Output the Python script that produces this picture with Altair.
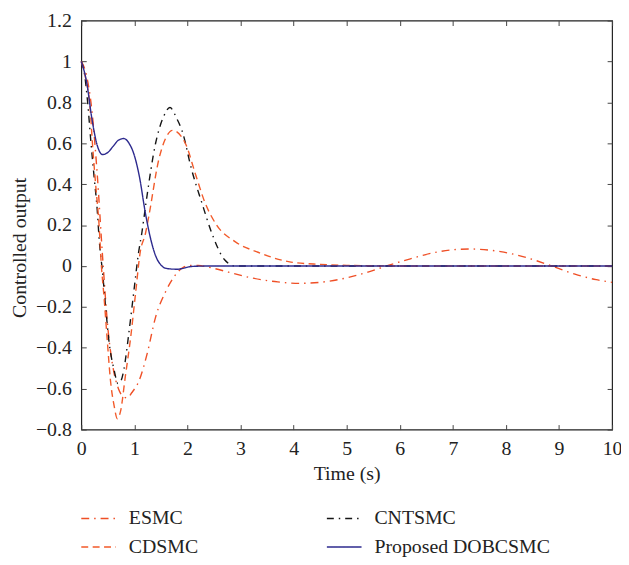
import altair as alt
import pandas as pd

# ---------------- data ----------------
series_names = ["ESMC", "CNTSMC", "CDSMC", "Proposed DOBCSMC"]
series_colors = ["#ef4f26", "#151515", "#f25a2a", "#2d2a8e"]
series_dashes = [[8, 5, 1.5, 5], [7, 5, 1.5, 5], [7, 4.5], [1, 0]]

x_ticks = [0, 1, 2, 3, 4, 5, 6, 7, 8, 9, 10]
y_ticks = [-0.8, -0.6, -0.4, -0.2, 0, 0.2, 0.4, 0.6, 0.8, 1.0, 1.2]

esmc_t = [0, 0.1, 0.2, 0.3, 0.4, 0.5, 0.6, 0.7, 0.8, 0.87, 0.95, 1.09, 1.24, 1.40,
          1.59, 1.77, 1.90, 2.05, 2.2, 2.5, 2.77, 3.2, 3.7, 4.1, 4.5, 5.0, 5.4,
          5.75, 6.2, 6.7, 7.3, 7.9, 8.4, 8.86, 9.3, 9.7, 10]
esmc_y = [1.0, 0.93, 0.76, 0.45, 0.05, -0.30, -0.50, -0.60, -0.64, -0.645, -0.62,
          -0.56, -0.43, -0.25, -0.125, -0.045, -0.01, 0.003, 0.002, -0.012, -0.03,
          -0.058, -0.078, -0.085, -0.08, -0.058, -0.03, 0.0, 0.035, 0.068, 0.083,
          0.07, 0.04, 0.0, -0.04, -0.067, -0.08]

cnt_t = [0, 0.06, 0.12, 0.18, 0.24, 0.30, 0.34, 0.40, 0.46, 0.52, 0.62, 0.69, 0.75,
         0.80, 0.90, 0.99, 1.08, 1.14, 1.22, 1.40, 1.55, 1.67, 1.80, 1.90, 2.08,
         2.27, 2.46, 2.70, 2.90, 3.2, 10]
cnt_y = [1.0, 0.94, 0.80, 0.61, 0.44, 0.275, 0.12, -0.03, -0.205, -0.365, -0.51,
         -0.575, -0.56, -0.51, -0.32, -0.125, 0.067, 0.16, 0.31, 0.60, 0.73, 0.775,
         0.72, 0.66, 0.47, 0.31, 0.16, 0.03, 0.0, 0.0, 0.0]

cds_t = [0, 0.08, 0.17, 0.21, 0.27, 0.34, 0.37, 0.43, 0.49, 0.55, 0.62, 0.68, 0.74,
         0.83, 0.93, 1.02, 1.11, 1.21, 1.27, 1.46, 1.60, 1.72, 1.96, 2.15, 2.33,
         2.55, 2.89, 3.33, 3.95, 4.5, 5.0, 6.0, 10]
cds_y = [1.0, 0.92, 0.76, 0.60, 0.40, 0.18, 0.035, -0.157, -0.365, -0.56, -0.686,
         -0.747, -0.71, -0.54, -0.35, -0.14, 0.067, 0.16, 0.24, 0.52, 0.63, 0.663,
         0.60, 0.45, 0.31, 0.20, 0.12, 0.067, 0.019, 0.008, 0.003, 0.0, 0.0]

dob_t = [0, 0.1, 0.2, 0.3, 0.4, 0.5, 0.6, 0.7, 0.8, 0.9, 1.0, 1.1, 1.2, 1.3, 1.4,
         1.5, 1.6, 1.8, 2.1, 2.5, 10]
dob_y = [1.0, 0.90, 0.72, 0.59, 0.545, 0.555, 0.585, 0.615, 0.623, 0.60, 0.54,
         0.43, 0.27, 0.14, 0.05, 0.005, -0.012, -0.016, -0.002, 0.0, 0.0]

series_t = [esmc_t, cnt_t, cds_t, dob_t]
series_y = [esmc_y, cnt_y, cds_y, dob_y]

rows = []
for name, ts, ys in zip(series_names, series_t, series_y):
    for t, y in zip(ts, ys):
        rows.append({"series": name, "t": t, "y": y})
df = pd.DataFrame(rows)

FONT = "Liberation Serif"
TXT = "#222222"

legend = alt.Legend(
    title=None, orient="none", legendX=-1, legendY=484, columns=2,
    columnPadding=126, rowPadding=-1, symbolType="stroke", symbolSize=1225,
    symbolStrokeWidth=1.5, labelFont=FONT, labelFontSize=20, labelColor=TXT,
    labelOffset=12, labelLimit=400, direction="horizontal",
)

xscale = alt.Scale(domain=[0, 10], nice=False, zero=False)
yscale = alt.Scale(domain=[-0.8, 1.2], nice=False, zero=False)

lines = alt.Chart(df).mark_line(strokeWidth=1.4, interpolate="monotone").encode(
    x=alt.X("t:Q", scale=xscale,
            axis=alt.Axis(orient="bottom", values=x_ticks, title="Time (s)",
                          offset=-5, tickSize=5, domain=False, grid=False,
                          labelPadding=9, labelFont=FONT, labelFontSize=20,
                          labelColor=TXT, tickColor="#444", titleFont=FONT,
                          titleFontSize=20, titleFontWeight="normal",
                          titleColor=TXT, titleBaseline="alphabetic", titleY=55,
                          labelFlush=False)),
    y=alt.Y("y:Q", scale=yscale,
            axis=alt.Axis(orient="left", values=y_ticks, title="Controlled output",
                          offset=-5, tickSize=5, domain=False, grid=False,
                          labelPadding=10, labelFont=FONT, labelFontSize=20,
                          labelColor=TXT, tickColor="#444", titleFont=FONT,
                          titleFontSize=20, titleFontWeight="normal",
                          titleColor=TXT, titleX=-67, titleY=229,
                          titleBaseline="middle", titleAlign="center",
                          labelFlush=False,
                          labelExpr="format(datum.value, '.1~f')")),
    color=alt.Color("series:N", scale=alt.Scale(domain=series_names, range=series_colors),
                    legend=legend),
    strokeDash=alt.StrokeDash("series:N",
                              scale=alt.Scale(domain=series_names, range=series_dashes),
                              legend=legend),
)

frame_ticks = alt.Chart(df).mark_point(opacity=0).encode(
    x=alt.X("t:Q", scale=xscale,
            axis=alt.Axis(orient="top", values=x_ticks, title=None, labels=False,
                          offset=-5, tickSize=5, domain=False, grid=False,
                          tickColor="#444")),
    y=alt.Y("y:Q", scale=yscale,
            axis=alt.Axis(orient="right", values=y_ticks, title=None, labels=False,
                          offset=-5, tickSize=5, domain=False, grid=False,
                          tickColor="#444")),
)

chart = alt.layer(lines, frame_ticks).resolve_axis(
    x="independent", y="independent"
).properties(
    width=536, height=413,
    autosize=alt.AutoSizeParams(type="none"),
    padding={"left": 74, "top": 10, "right": 9, "bottom": 126},
    background="white",
).configure_view(stroke="#222222", strokeWidth=1.2)

chart.save("out.html", embed_options={"renderer": "svg", "actions": False})
